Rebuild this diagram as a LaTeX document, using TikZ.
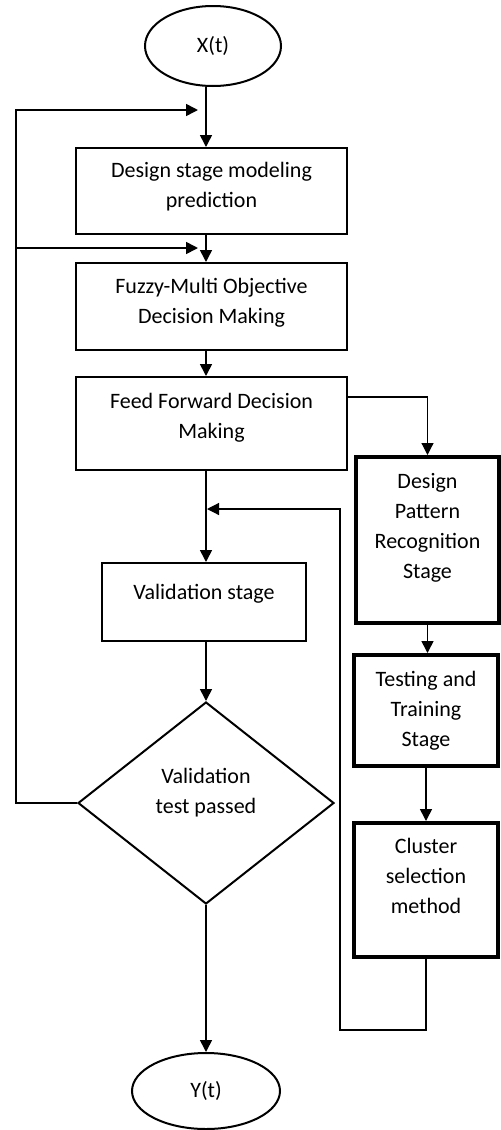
\documentclass[tikz,border=0pt]{standalone}
\usepackage{fontspec}
\setmainfont{Carlito}
\usetikzlibrary{shapes.geometric,arrows.meta}

\begin{document}
\begin{tikzpicture}[x=0.5pt, y=-0.5pt, font=\fontsize{11}{15}\selectfont,
    box/.style={draw, line width=1pt, align=center, inner sep=0pt},
    heavybox/.style={box, line width=2pt},
    lift/.style={text depth=#1},
    terminal/.style={draw, ellipse, line width=1pt, inner sep=0pt},
    decision/.style={draw, diamond, aspect=1.27, line width=1pt, align=center, inner sep=0pt},
    flow/.style={line width=0.8pt, -{Triangle[length=6pt,width=6pt]}},
    sideflow/.style={flow, line width=0.6pt}]

\useasboundingbox (0,0) rectangle (500,1130);

% main column
\node[terminal, minimum width=68pt, minimum height=40pt] (xt) at (213,46) {X(t)};
\node[box, lift=6pt, minimum width=135.5pt, minimum height=43pt] (design) at (211.5,191) {Design stage modeling\\prediction};
\node[box, lift=6pt, minimum width=135.5pt, minimum height=43.5pt] (fuzzy) at (211.5,306.5) {Fuzzy-Multi Objective\\Decision Making};
\node[box, lift=8pt, minimum width=135.5pt, minimum height=46.5pt] (forward) at (211.5,423.5) {Feed Forward Decision\\Making};
\node[box, lift=10pt, minimum width=102pt, minimum height=39pt] (valid) at (204,602) {Validation stage};
\node[decision, lift=12pt, minimum width=128pt, minimum height=101pt] (decide) at (206,803) {Validation\\test passed};
\node[terminal, minimum width=74pt, minimum height=38pt] (yt) at (206,1091) {Y(t)};

% side column
\node[heavybox, lift=14pt, minimum width=71.5pt, minimum height=83pt] (pattern) at (427.5,540) {Design\\Pattern\\Recognition\\Stage};
\node[heavybox, minimum width=72pt, minimum height=55.5pt] (testing) at (426,710.5) {Testing and\\Training\\Stage};
\node[heavybox, lift=14pt, minimum width=72pt, minimum height=67pt] (cluster) at (426,890) {Cluster\\selection\\method};

\coordinate (axis) at (206,0);
\coordinate (tap) at (0,397);
\coordinate (back1) at (16,110);
\coordinate (back2) at (16,248);
\coordinate (in1) at (198,110);
\coordinate (in2) at (198,248);
\coordinate (loopcorner) at (340,1030);
\coordinate (join) at (207,509);

\draw[flow] (xt.south -| axis) -- (design.north -| axis);
\draw[flow] (design.south -| axis) -- (fuzzy.north -| axis);
\draw[flow] (fuzzy.south -| axis) -- (forward.north -| axis);
\draw[flow] (forward.south -| axis) -- (valid.north -| axis);
\draw[flow] (valid.south -| axis) -- (decide.north);
\draw[flow] (decide.south) -- (yt.north);

% feedback to the top
\draw[flow] (decide.west) -| (back1) -- (in1);
\draw[flow] (back2) -- (in2);

% side branch
\draw[sideflow] (forward.east |- tap) -| (pattern.north);
\draw[flow] (pattern.south) -- (pattern.south |- testing.north);
\draw[flow] (testing.south) -- (cluster.north);
\draw[sideflow] (cluster.south) |- (loopcorner) |- (join);

\end{tikzpicture}
\end{document}
